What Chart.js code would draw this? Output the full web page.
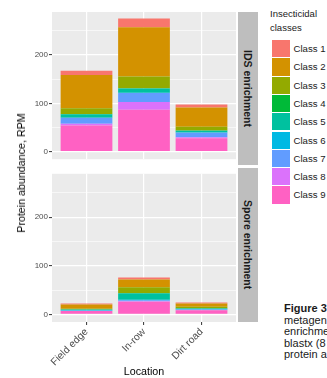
<!DOCTYPE html>
<html><head><meta charset="utf-8">
<script src="https://cdn.jsdelivr.net/npm/chart.js@4.4.0/dist/chart.umd.min.js"></script>
<style>
html,body{margin:0;padding:0;background:#fff;}
body{width:327px;height:378px;overflow:hidden;position:relative;font-family:"Liberation Sans",Arial,sans-serif;}
canvas{position:absolute;left:0;}
#cTop{top:0;}
#cBot{top:168px;}
.strip{position:absolute;left:238px;width:20px;background:#BEBEBE;display:flex;align-items:center;justify-content:center;}
.strip span{writing-mode:vertical-rl;font-weight:bold;font-size:10.5px;color:#1A1A1A;white-space:nowrap;}
#ytitle{position:absolute;left:20.5px;top:173px;transform:translate(-50%,-50%) rotate(-90deg);font-size:10.7px;color:#000;white-space:nowrap;}
#legTitle{position:absolute;left:270px;top:6.5px;font-size:9.5px;line-height:14px;color:#1A1A1A;}
.key{position:absolute;left:272px;width:18px;height:17.3px;}
.klab{position:absolute;left:293.5px;font-size:9.6px;line-height:17.3px;color:#1A1A1A;white-space:nowrap;}
#caption{position:absolute;left:284px;top:303px;font-size:11px;line-height:11.5px;color:#1A1A1A;white-space:nowrap;}
</style></head>
<body>
<canvas id="cTop" width="236" height="165"></canvas>
<canvas id="cBot" width="236" height="210"></canvas>
<div class="strip" style="top:12px;height:153px;"><span>IDS enrichment</span></div>
<div class="strip" style="top:168px;height:154px;"><span>Spore enrichment</span></div>
<div id="ytitle">Protein abundance, RPM</div>
<div id="legTitle">Insecticidal<br>classes</div>
<div id="legend"></div>
<div id="caption"><b>Figure 3</b><br>metagen<br>enrichme<br>blastx (8<br>protein a</div>
<script>
// ---- data ----
const categories = ["Field edge", "In-row", "Dirt road"];
const classNames = ["Class 1","Class 2","Class 3","Class 4","Class 5","Class 6","Class 7","Class 8","Class 9"];
const classColors = ["#F8766D","#D39200","#93AA00","#00BA38","#00C19F","#00B9E3","#619CFF","#DB72FB","#FF61C3"];
// values per class (Class 1..9) for each location, RPM
const idsFieldEdge  = [8.6, 68.8, 12, 0.3, 7.4, 0.3, 12, 4, 54];
const idsInRow      = [18, 102, 24, 0.5, 9, 0.5, 18.4, 16, 87];
const idsDirtRoad   = [6, 40, 8, 0.3, 3.7, 0.3, 9.4, 2, 28];
const sporeFieldEdge = [2, 8.6, 1.4, 0.3, 1.7, 0.8, 0.4, 0.2, 7];
const sporeInRow     = [4, 15.8, 12.4, 0.3, 13.3, 0.8, 2.4, 0.6, 26.3];
const sporeDirtRoad  = [2, 6.6, 3.4, 0.3, 1, 1, 1.5, 0.2, 8.6];
const yGridValues = [0, 50, 100, 150, 200, 250];
const yLabelValues = [0, 100, 200];
const yMin = -15.5, yMax = 289;

// ---- legend (html) ----
const leg = document.getElementById('legend');
classNames.forEach((n, i) => {
  const top = 40 + i * 18.3;
  const k = document.createElement('div'); k.className = 'key';
  k.style.top = top + 'px'; k.style.background = classColors[i]; leg.appendChild(k);
  const l = document.createElement('div'); l.className = 'klab';
  l.style.top = top + 'px'; l.textContent = n; leg.appendChild(l);
});

const FONT = "'Liberation Sans', Arial, sans-serif";
const panelBg = { id: 'panelBg', beforeDraw(chart) {
  const {ctx, chartArea: a} = chart; ctx.save(); ctx.fillStyle = '#EBEBEB';
  ctx.fillRect(a.left, a.top, a.right - a.left, a.bottom - a.top); ctx.restore(); } };

function makeDatasets(rows) {
  // ggplot stacks Class 1 on top -> draw Class 9 first (bottom)
  const ds = [];
  for (let c = classNames.length - 1; c >= 0; c--) {
    ds.push({ label: classNames[c], backgroundColor: classColors[c], borderWidth: 0,
      barPercentage: 0.9, categoryPercentage: 1,
      data: rows.map((r, i) => ({ x: i + 1, y: r[c] })) });
  }
  return ds;
}

function yScale() {
  return { stacked: true, min: yMin, max: yMax, position: 'left',
    afterBuildTicks: s => { s.ticks = yGridValues.map(v => ({ value: v })); },
    afterFit: s => { s.width = 52; },
    ticks: { callback: v => yLabelValues.includes(v) ? String(v) : '', font: { family: FONT, size: 8 }, color: '#4D4D4D', padding: 1 },
    grid: { color: '#FFFFFF', lineWidth: c => yLabelValues.includes(c.tick.value) ? 1.2 : 0.6,
      tickColor: c => yLabelValues.includes(c.tick.value) ? '#333333' : 'rgba(0,0,0,0)', tickLength: 3, tickWidth: 1 },
    border: { display: false } };
}

function xScale(bottom) {
  const s = { type: 'linear', stacked: true, min: 0.4, max: 3.6, offset: false, position: 'bottom',
    afterBuildTicks: sc => { sc.ticks = categories.map((c, i) => ({ value: i + 1 })); },
    grid: { offset: false, color: '#FFFFFF', lineWidth: 1.2, drawTicks: bottom, tickLength: 3, tickColor: '#333333', tickWidth: 1 },
    border: { display: false } };
  if (bottom) {
    s.afterFit = sc => { sc.height = 56; };
    s.ticks = { autoSkip: false, minRotation: 45, maxRotation: 45, padding: 1,
      callback: v => categories[v - 1] || '', font: { family: FONT, size: 10.2 }, color: '#4D4D4D' };
    s.title = { display: true, text: 'Location', font: { family: FONT, size: 10.7 }, color: '#000', padding: 0 };
  } else {
    s.afterFit = sc => { sc.height = 0; };
    s.ticks = { display: false };
  }
  return s;
}

function baseOpts(bottom) {
  return { responsive: false, devicePixelRatio: 1, animation: false,
    layout: { padding: { top: bottom ? 0 : 12, left: 0, right: 0, bottom: 0 } },
    plugins: { legend: { display: false }, tooltip: { enabled: false } },
    scales: { x: xScale(bottom), y: yScale() } };
}

new Chart(document.getElementById('cTop'), { type: 'bar',
  data: { datasets: makeDatasets([idsFieldEdge, idsInRow, idsDirtRoad]) },
  options: baseOpts(false), plugins: [panelBg] });
new Chart(document.getElementById('cBot'), { type: 'bar',
  data: { datasets: makeDatasets([sporeFieldEdge, sporeInRow, sporeDirtRoad]) },
  options: baseOpts(true), plugins: [panelBg] });
</script>
</body></html>
